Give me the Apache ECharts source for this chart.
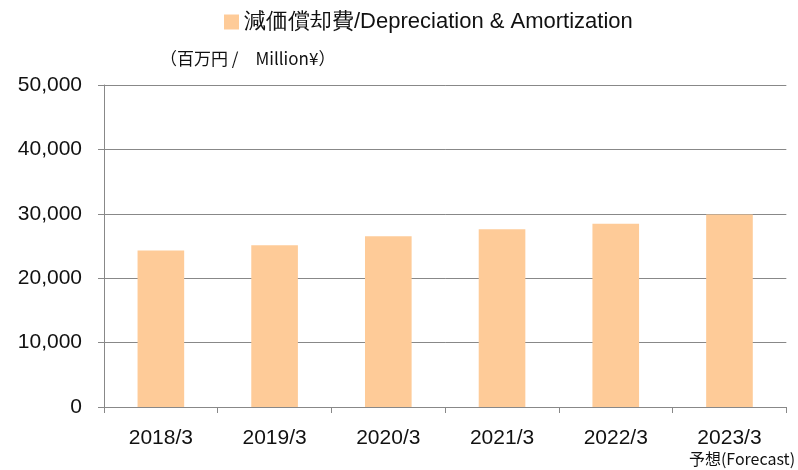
<!DOCTYPE html>
<html>
<head>
<meta charset="utf-8">
<script src="https://cdn.jsdelivr.net/npm/echarts@6/dist/echarts.min.js"></script>
<style>
  html, body { margin: 0; padding: 0; background: #fff; }
  #chart { width: 798px; height: 470px; }
</style>
</head>
<body>
<div id="chart"></div>
<script>
// data
const categories = ['2018/3', '2019/3', '2020/3', '2021/3', '2022/3', '2023/3'];
const values = [24300, 25100, 26500, 27600, 28450, 29900];
const seriesName = '減価償却費/Depreciation & Amortization';
const unitLabel = '（百万円 /　Million¥）';
const forecastNote = '予想(Forecast)';

const axisFont = 'Liberation Sans';

const myChart = echarts.init(document.getElementById('chart'));

const option = {
  animation: false,
  backgroundColor: '#fff',
  legend: {
    top: 6,
    left: 219,
    icon: 'rect',
    itemWidth: 15,
    itemHeight: 15,
    itemGap: 4,
    textStyle: { fontFamily: 'Liberation Sans', fontSize: 22, color: '#111' },
    data: [seriesName]
  },
  graphic: [{
    type: 'text',
    left: 160,
    top: 50,
    style: { text: unitLabel, font: '17px "Noto Sans CJK JP"', fill: '#111' }
  }],
  grid: { left: 104, right: 11, top: 85, bottom: 63 },
  xAxis: {
    type: 'category',
    data: categories,
    axisLine: { lineStyle: { color: '#888', width: 1 } },
    axisTick: { show: true, length: 6, lineStyle: { color: '#888' } },
    axisLabel: {
      interval: 0,
      margin: 20,
      color: '#111',
      formatter: function (v, i) {
        // every label uses the same rich line so they line up; the last one gets the forecast note
        return i === categories.length - 1 ? '{a|' + v + '}\n{b|' + forecastNote + '}' : '{a|' + v + '}';
      },
      rich: {
        a: { fontFamily: axisFont, fontSize: 21, color: '#111', lineHeight: 23 },
        b: { fontFamily: 'Noto Sans CJK JP', fontSize: 16, color: '#111', lineHeight: 18, padding: [0, 0, 0, 25] }
      }
    }
  },
  yAxis: {
    type: 'value',
    min: 0,
    max: 50000,
    interval: 10000,
    axisLine: { show: true, lineStyle: { color: '#888', width: 1 } },
    axisTick: { show: true, length: 6, lineStyle: { color: '#888' } },
    splitLine: { lineStyle: { color: '#888', width: 1 } },
    axisLabel: {
      margin: 22,
      fontFamily: axisFont,
      fontSize: 21,
      color: '#111',
      formatter: v => v.toLocaleString('en-US')
    }
  },
  series: [{
    name: seriesName,
    type: 'bar',
    data: values,
    barWidth: '41%',
    itemStyle: { color: '#FECB98' }
  }]
};

option && myChart.setOption(option);
</script>
</body>
</html>
